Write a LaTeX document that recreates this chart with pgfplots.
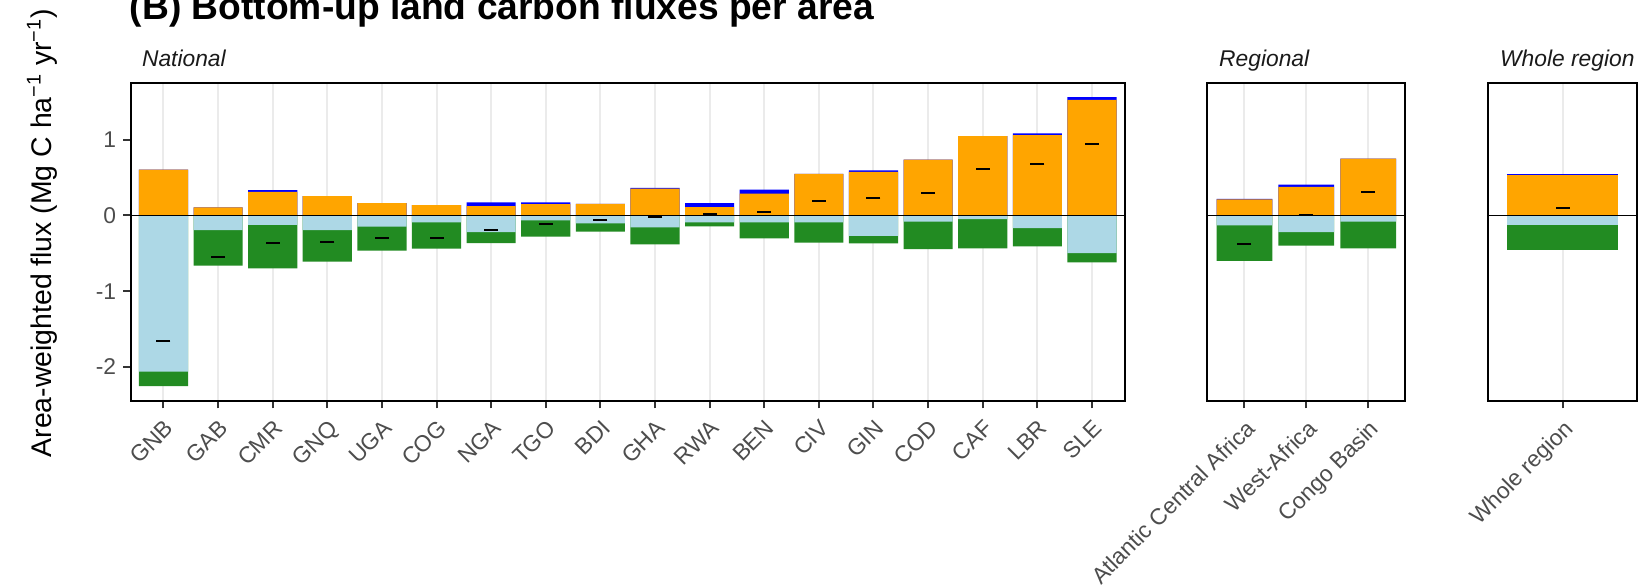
\documentclass[border=0pt]{standalone}
\usepackage{fontspec}
\setmainfont{Liberation Sans}
\usepackage{pgfplots}
\pgfplotsset{compat=1.18}
\usepackage{pgfplotstable}

\definecolor{barorange}{HTML}{FFA500}
\definecolor{barblue}{HTML}{0000FF}
\definecolor{barlightblue}{HTML}{ADD8E6}
\definecolor{bargreen}{HTML}{228B22}
\definecolor{gridgrey}{HTML}{EBEBEB}
\definecolor{ticktext}{HTML}{4D4D4D}
\definecolor{tickline}{HTML}{333333}
\definecolor{striptext}{HTML}{1A1A1A}

% Area-weighted fluxes (Mg C ha-1 yr-1): positive parts (orange, blue),
% negative parts (light blue, green) and the net balance
\pgfplotstableread{
x orange blue lightblue green net
0  0.605 0.000 -2.061 -0.193 -1.658
1  0.105 0.000 -0.193 -0.469 -0.548
2  0.311 0.022 -0.123 -0.574 -0.360
3  0.254 0.000 -0.193 -0.417 -0.351
4  0.162 0.000 -0.149 -0.316 -0.303
5  0.136 0.000 -0.092 -0.347 -0.303
6  0.123 0.048 -0.219 -0.145 -0.193
7  0.149 0.022 -0.066 -0.215 -0.114
8  0.154 0.000 -0.105 -0.110 -0.066
9  0.355 0.009 -0.158 -0.224 -0.018
10 0.110 0.052 -0.092 -0.053  0.018
11 0.289 0.053 -0.092 -0.211  0.039
12 0.548 0.000 -0.092 -0.268  0.197
13 0.575 0.021 -0.268 -0.100  0.224
14 0.737 0.000 -0.083 -0.360  0.298
15 1.048 0.000 -0.048 -0.386  0.610
16 1.061 0.022 -0.167 -0.241  0.684
17 1.526 0.035 -0.496 -0.122  0.947
}\national

\pgfplotstableread{
x orange blue lightblue green net
0 0.211 0.008 -0.132 -0.469 -0.382
1 0.377 0.031 -0.219 -0.180  0.009
2 0.750 0.000 -0.083 -0.351  0.316
}\regional

\pgfplotstableread{
x orange blue lightblue green net
0 0.535 0.009 -0.132 -0.320 0.097
}\whole

\pgfplotsset{
  panel/.style={
    scale only axis, height=159pt,
    ymin=-2.445, ymax=1.752, xmin=-0.6,
    axis line style={black, line width=1.1pt},
    xmajorgrids, major grid style={gridgrey, line width=1pt},
    tick style={tickline, line width=1pt},
    tick align=outside, major tick length=3.8pt,
    xtick pos=bottom, ytick pos=left,
    ticklabel style={font=\fontsize{11.4}{13}\selectfont, text=ticktext},
    xticklabel style={rotate=45, anchor=north east, inner sep=1pt},
    xticklabel shift=3.5pt,
    clip=false,
  },
  barseg/.style={ybar, bar width=0.9, bar shift=0pt, draw=none, fill=#1},
  netmark/.style={only marks, mark=-, mark size=3.5pt, mark options={black, line width=1pt}},
}

\newcommand{\drawbars}[2]{%
  \addplot[barseg=barblue] table[x=x, y expr=\thisrow{orange}+\thisrow{blue}]{#1};
  \addplot[barseg=barorange] table[x=x, y=orange]{#1};
  \addplot[barseg=bargreen] table[x=x, y expr=\thisrow{lightblue}+\thisrow{green}]{#1};
  \addplot[barseg=barlightblue] table[x=x, y=lightblue]{#1};
  \addplot[black, line width=0.8pt] coordinates {(-0.6,0) (#2,0)};
  \addplot[netmark] table[x=x, y=net]{#1};
}

\begin{document}
\begin{tikzpicture}
% National
\begin{axis}[panel, at={(65.35pt,-200.35pt)}, anchor=south west, width=497pt,
  xmax=17.6, xtick={0,...,17},
  xticklabels={GNB,GAB,CMR,GNQ,UGA,COG,NGA,TGO,BDI,GHA,RWA,BEN,CIV,GIN,COD,CAF,LBR,SLE},
  ytick={-2,-1,0,1}, yticklabels={-2,-1,0,1}]
\drawbars{\national}{17.6}
\end{axis}
% Regional
\begin{axis}[panel, at={(603.65pt,-200.35pt)}, anchor=south west, width=99pt,
  xmax=2.6, xtick={0,1,2},
  xticklabels={Atlantic Central Africa,West-Africa,Congo Basin},
  ytick=\empty]
\drawbars{\regional}{2.6}
\end{axis}
% Whole region
\begin{axis}[panel, at={(744.15pt,-200.35pt)}, anchor=south west, width=74.2pt,
  xmax=0.6, xtick={0}, xticklabels={Whole region}, ytick=\empty]
\drawbars{\whole}{0.6}
\end{axis}

% Strip labels
\begin{scope}[every node/.style={anchor=base west, inner sep=0pt, text=striptext,
    font=\itshape\fontsize{11.4}{13}\selectfont}]
\node at (70.85pt,-33.35pt) {National};
\node at (609.4pt,-33.35pt) {Regional};
\node at (749.9pt,-33.35pt) {Whole region};
\end{scope}

% Title and axis title
\node[anchor=base west, inner sep=0pt, font=\bfseries\fontsize{18.6}{22}\selectfont]
  at (64.75pt,-9.5pt) {(B) Bottom-up land carbon fluxes per area};
\node[rotate=90, anchor=base west, inner sep=0pt, font=\fontsize{14.2}{17}\selectfont]
  at (25.5pt,-228.8pt) {Area-weighted flux (Mg C ha\textsuperscript{−1} yr\textsuperscript{−1})};

\pgfresetboundingbox
\path[use as bounding box] (0pt,0pt) rectangle (821pt,-292pt);
\end{tikzpicture}
\end{document}
